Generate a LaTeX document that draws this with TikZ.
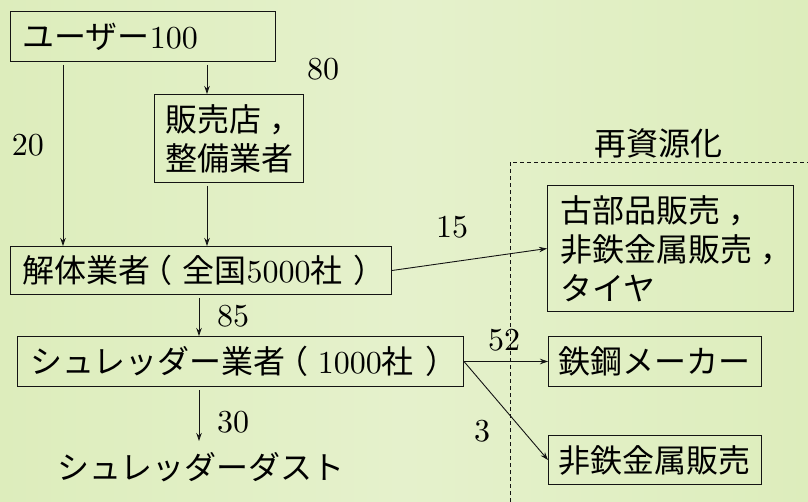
\documentclass[tikz,border=0pt]{standalone}
\usepackage{fontspec}
\newfontfamily\jp{Noto Sans CJK JP}
\newfontfamily\num{lmroman10-regular}[Extension=.otf]
\usetikzlibrary{arrows.meta}
\definecolor{bgA}{RGB}{229,241,204}
\definecolor{bgB}{RGB}{221,237,188}
\definecolor{ink}{RGB}{20,20,20}
\newcommand{\jlp}{\hspace{-0.3em}（\hspace{0.3em}}
\newcommand{\jrp}{\hspace{0.35em}）\hspace{-0.35em}}
\tikzset{
  box/.style={draw=ink, line width=1pt, inner ysep=0pt, anchor=north west, align=left,
              font=\fontsize{32}{39}\selectfont\num, text=black},
  lbl/.style={font=\fontsize{32}{39}\selectfont\num, text=black, inner sep=0pt},
  arr/.style={draw=ink, line width=0.9pt, -{Stealth[length=8pt,width=5.5pt]}},
  dashline/.style={draw=ink, line width=0.8pt, dash pattern=on 4pt off 3pt}
}
\begin{document}
\begin{tikzpicture}[x=1pt,y=-1pt]
\useasboundingbox (0,0) rectangle (808,502);
\shade[left color=bgB, right color=bgB, middle color=bgA] (0,0) rectangle (808,502);
% dashed region
\draw[dashline] (510,502) -- (510,162) -- (808,162);
\node[lbl] (rs) at (658,143) {\jp 再資源化};
% boxes
\node[box, minimum width=265pt, minimum height=50pt, text width=241pt, inner xsep=12pt] (b1) at (10,11) {\mbox{{\jp ユーザー}100}};
\node[box, minimum width=149pt, minimum height=88pt, text width=127pt, inner xsep=11pt] (b2) at (154,94) {\mbox{\jp 販売店\hspace{0.25em}，}\\\mbox{\jp 整備業者}};
\node[box, minimum width=381pt, minimum height=48pt, text width=357pt, inner xsep=12pt] (b3) at (10,246) {\mbox{{\jp 解体業者\jlp 全国}5000{\jp 社\jrp}}};
\node[box, minimum width=246pt, minimum height=126pt, text width=220pt, inner xsep=13pt] (b4) at (547,185) {\mbox{\jp 古部品販売\hspace{0.25em}，}\\\mbox{\jp 非鉄金属販売\hspace{0.25em}，}\\\mbox{\jp タイヤ}};
\node[box, minimum width=446pt, minimum height=50pt, text width=420pt, inner xsep=13pt] (b5) at (17,336) {\mbox{{\jp シュレッダー業者\jlp}1000{\jp 社\jrp}}};
\node[box, minimum width=213pt, minimum height=50pt, text width=193pt, inner xsep=10pt] (b6) at (548,336) {\mbox{\jp 鉄鋼メーカー}};
\node[box, minimum width=213pt, minimum height=49pt, text width=193pt, inner xsep=10pt] (b7) at (548,435) {\mbox{\jp 非鉄金属販売}};
\node[lbl] (dust) at (201,467) {\jp シュレッダーダスト};
\coordinate (dustin) at (199,441);
% connectors
\draw[arr, shorten <=3pt] (b1.south -| 63,0) -- (b3.north -| 63,0);
\draw[arr, shorten <=3pt] (b1.south -| 207,0) -- (b2.north -| 207,0);
\draw[arr, shorten <=3pt] (b2.south -| 207,0) -- (b3.north -| 207,0);
\draw[arr, shorten <=3pt] (b3.south -| 199,0) -- (b5.north -| 199,0);
\draw[arr, shorten <=3pt] (b5.south -| 199,0) -- (dustin);
\draw[arr] (b3.east) -- (b4.west);
\draw[arr] (b5.east) -- (b6.west);
\draw[arr] (b5.east) -- (b7.west);
% labels
\node[lbl] (l80) at (323,69) {80};
\node[lbl] (l20) at (28,145) {20};
\node[lbl] (l15) at (452,227) {15};
\node[lbl] (l85) at (233,316) {85};
\node[lbl] (l30) at (233,422) {30};
\node[lbl] (l52) at (504,340) {52};
\node[lbl] (l3) at (482,431) {3};
\end{tikzpicture}
\end{document}
